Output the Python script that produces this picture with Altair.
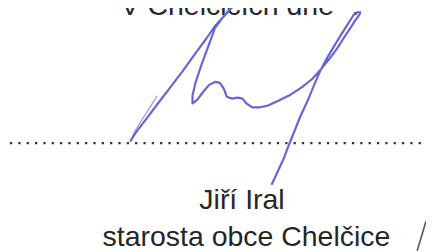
import altair as alt
import pandas as pd

# ---- data (pixel-space positions read from the scanned page) ----
faint_x = [160, 152, 143, 136, 133]
faint_y = [95, 108, 122, 134, 141]

main_x = [133, 138, 148, 160, 173, 186, 199, 210, 219, 230, 240, 246, 238, 228, 219, 212, 205, 199,
          196, 196, 201, 207, 213, 219, 224, 228, 231, 236, 242, 247, 251, 257, 264, 273, 284, 296,
          308, 318, 327, 336, 344, 351, 357, 362, 366, 367, 364, 360, 355, 348, 340, 333, 327, 320,
          313, 306, 300, 294, 289, 283, 277]
main_y = [141, 133, 120, 104, 87, 70, 52, 37, 24, 12, 1, -6, 2, 14, 26, 45, 64, 82,
          95, 103, 99, 91, 84, 81, 82, 88, 96, 98, 97, 98, 103, 107, 107, 105, 100, 94,
          86, 78, 68, 57, 46, 35, 26, 18, 13, 10, 10, 13, 21, 32, 45, 57, 68, 84,
          101, 116, 131, 146, 159, 172, 185]

grey_x = [425, 434]
grey_y = [253, 223]

texts = ["V Chelčicích dne", ".", "Jiří Iral", "starosta obce Chelčice"]
text_x = [231.5, 362, 246.5, 251]
text_y = [13.3, 13.3, 210.7, 248.3]

dots_x = [10, 433]
dots_y = [143.5, 143.5]

# ---- scales: map page pixels onto the plot area (page margin is 8px) ----
xs = alt.Scale(domain=[8, 434], nice=False, zero=False)
ys = alt.Scale(domain=[8, 252], nice=False, zero=False, reverse=True)
X = lambda f: alt.X(f, type="quantitative", scale=xs, axis=None)
Y = lambda f: alt.Y(f, type="quantitative", scale=ys, axis=None)

text_df = pd.DataFrame({"t": texts, "x": text_x, "y": text_y})
faint_df = pd.DataFrame({"x": faint_x, "y": faint_y, "i": range(len(faint_x))})
main_df = pd.DataFrame({"x": main_x, "y": main_y, "i": range(len(main_x))})
grey_df = pd.DataFrame({"x": grey_x, "y": grey_y, "i": range(len(grey_x))})
dots_df = pd.DataFrame({"x": [dots_x[0]], "x2": [dots_x[1]], "y": [dots_y[0]]})

txt_main = alt.Chart(text_df.iloc[[0, 2, 3]]).mark_text(
    font="Liberation Sans", fontSize=29, color="#262626", align="center", baseline="alphabetic"
).encode(x=X("x"), y=Y("y"), text="t:N")

txt_dot = alt.Chart(text_df.iloc[[1]]).mark_text(
    font="Liberation Sans", fontSize=29, color="#262626", align="center", baseline="alphabetic"
).encode(x=X("x"), y=Y("y"), text="t:N")

dots = alt.Chart(dots_df).mark_rule(
    color="#333333", strokeWidth=2.3, strokeDash=[2.3, 6.2]
).encode(x=X("x"), x2="x2:Q", y=Y("y"))

faint = alt.Chart(faint_df).mark_line(
    color="#8f8ce0", strokeWidth=1.4, opacity=0.8, interpolate="monotone"
).encode(x=X("x"), y=Y("y"), order="i:Q")

main = alt.Chart(main_df).mark_line(
    color="#6764d4", strokeWidth=2.2, interpolate="linear", strokeJoin="round", strokeCap="round"
).encode(x=X("x"), y=Y("y"), order="i:Q")

grey = alt.Chart(grey_df).mark_line(
    color="#555555", strokeWidth=1.6
).encode(x=X("x"), y=Y("y"), order="i:Q")

chart = alt.layer(txt_main, txt_dot, dots, faint, main, grey).properties(
    width=426, height=244, padding=0, background="white",
    autosize=alt.AutoSizeParams(type="none")
).configure_view(stroke=None)

chart.save("out.html", embed_options={"renderer": "svg", "actions": False})
